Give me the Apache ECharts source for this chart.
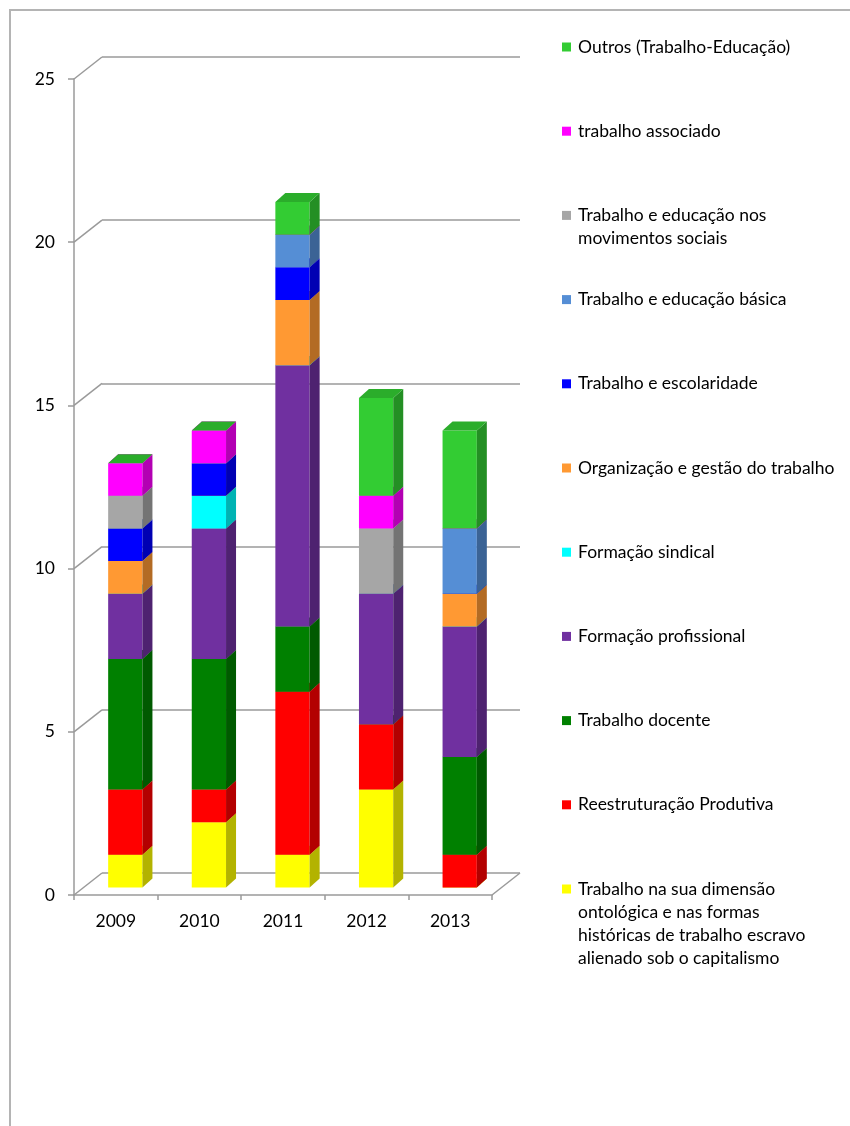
<!DOCTYPE html>
<html>
<head>
<meta charset="utf-8">
<script src="https://cdn.jsdelivr.net/npm/echarts@6/dist/echarts.min.js"></script>
<style>
  html, body { margin: 0; padding: 0; background: #fff; }
  #chart { width: 850px; height: 1126px; }
</style>
</head>
<body>
<div id="chart"></div>
<script>
// Years on the horizontal axis
const categories = ['2009', '2010', '2011', '2012', '2013'];

// Stacked themes, bottom of the stack first
const seriesNames = [
  'Trabalho na sua dimensão ontológica e nas formas históricas de trabalho escravo alienado sob o capitalismo',
  'Reestruturação Produtiva',
  'Trabalho docente',
  'Formação profissional',
  'Formação sindical',
  'Organização e gestão do trabalho',
  'Trabalho e escolaridade',
  'Trabalho e educação básica',
  'Trabalho e educação nos movimentos sociais',
  'trabalho associado',
  'Outros (Trabalho-Educação)'
];

// Legend labels as they wrap in the key
const legendLabels = [
  'Trabalho na sua dimensão\nontológica e nas formas\nhistóricas de trabalho escravo\nalienado sob o capitalismo',
  'Reestruturação Produtiva',
  'Trabalho docente',
  'Formação profissional',
  'Formação sindical',
  'Organização e gestão do trabalho',
  'Trabalho e escolaridade',
  'Trabalho e educação básica',
  'Trabalho e educação nos\nmovimentos sociais',
  'trabalho associado',
  'Outros (Trabalho-Educação)'
];

// Counts per year for each theme
const dimensaoOntologica = [1, 2, 1, 3, 0];
const reestruturacao     = [2, 1, 5, 2, 1];
const trabalhoDocente    = [4, 4, 2, 0, 3];
const formacaoProf       = [2, 4, 8, 4, 4];
const formacaoSindical   = [0, 1, 0, 0, 0];
const organizacaoGestao  = [1, 0, 2, 0, 1];
const escolaridade       = [1, 1, 1, 0, 0];
const educacaoBasica     = [0, 0, 1, 0, 2];
const movimentosSociais  = [1, 0, 0, 2, 0];
const trabalhoAssociado  = [1, 1, 0, 1, 0];
const outros             = [0, 0, 1, 3, 3];

const seriesValues = [
  dimensaoOntologica, reestruturacao, trabalhoDocente, formacaoProf,
  formacaoSindical, organizacaoGestao, escolaridade, educacaoBasica,
  movimentosSociais, trabalhoAssociado, outros
];

// Value-axis tick marks
const yTicks = [0, 5, 10, 15, 20, 25];

const colors = [
  '#ffff00', '#ff0000', '#008000', '#7030a0', '#00ffff', '#ff9933',
  '#0000ff', '#558ed5', '#a6a6a6', '#ff00ff', '#33cc33'
];

const FONT = 'Lato, "Open Sans", sans-serif';
const FONT_SIZE = 17.5;
const AXIS_GRAY = '#9a9a9a';

// 3D depth: back wall offset and bar plane offset from the front axis
const WALL_DX = 28, WALL_DY = -22;
const BAR_DX = 9.5, BAR_DY = -7.5;
const DEPTH_DX = 10, DEPTH_DY = -9;

function shade(hex, k) {
  const n = parseInt(hex.slice(1), 16);
  const r = Math.round(((n >> 16) & 255) * k);
  const g = Math.round(((n >> 8) & 255) * k);
  const b = Math.round((n & 255) * k);
  return 'rgb(' + r + ',' + g + ',' + b + ')';
}

// Running stack bases
const bases = seriesValues.map(() => []);
categories.forEach((c, ci) => {
  let acc = 0;
  seriesValues.forEach((vals, si) => {
    bases[si][ci] = acc;
    acc += vals[ci];
  });
});

function barRenderer(si) {
  const front = colors[si];
  const side = shade(colors[si], 0.7);
  const top = shade(colors[si], 0.85);
  return function (params, api) {
    const ci = api.value(0);
    const v = api.value(1);
    const base = api.value(2);
    const p0 = api.coord([ci, base]);
    const p1 = api.coord([ci, base + v]);
    const w = api.size([1, 0])[0] * 0.41;
    const xl = p0[0] - w / 2 + BAR_DX;
    const xr = p0[0] + w / 2 + BAR_DX;
    const yb = p0[1] + BAR_DY;
    const yt = p1[1] + BAR_DY;
    const children = [];
    if (v > 0) {
      children.push({
        type: 'rect',
        shape: { x: xl, y: yt, width: xr - xl, height: yb - yt },
        style: { fill: front }
      });
      children.push({
        type: 'polygon',
        shape: { points: [[xr, yt], [xr + DEPTH_DX, yt + DEPTH_DY], [xr + DEPTH_DX, yb + DEPTH_DY], [xr, yb]] },
        style: { fill: side }
      });
    }
    children.push({
      type: 'polygon',
      shape: { points: [[xl, yt], [xr, yt], [xr + DEPTH_DX, yt + DEPTH_DY], [xl + DEPTH_DX, yt + DEPTH_DY]] },
      style: { fill: top }
    });
    return { type: 'group', children: children };
  };
}

const barSeries = seriesNames.map((name, si) => ({
  type: 'custom',
  name: name,
  xAxisIndex: 0,
  yAxisIndex: 0,
  z: 3,
  renderItem: barRenderer(si),
  encode: { x: 0, y: 1 },
  data: categories.map((c, ci) => [ci, seriesValues[si][ci], bases[si][ci]])
}));

// Diagonal connectors from the front axis to the back wall
const wallSeries = {
  type: 'custom',
  xAxisIndex: 0,
  yAxisIndex: 0,
  z: 1,
  silent: true,
  renderItem: function (params, api) {
    const cs = params.coordSys;
    const y = api.coord([0, api.value(0)])[1];
    const lines = [{
      type: 'line',
      shape: { x1: cs.x, y1: y, x2: cs.x + WALL_DX, y2: y + WALL_DY },
      style: { stroke: AXIS_GRAY, lineWidth: 1.5 }
    }];
    if (api.value(0) === 0) {
      lines.push({
        type: 'line',
        shape: { x1: cs.x + cs.width, y1: y, x2: cs.x + cs.width + WALL_DX, y2: y + WALL_DY },
        style: { stroke: AXIS_GRAY, lineWidth: 1.5 }
      });
    }
    return { type: 'group', children: lines };
  },
  data: yTicks.map(t => [t])
};

// Legend key, top entry first
const LEG_TOP = 47, LEG_STEP = 84.2;
const legendGraphics = [];
for (let k = 0; k < seriesNames.length; k++) {
  const si = seriesNames.length - 1 - k;
  const yc = LEG_TOP + k * LEG_STEP;
  legendGraphics.push({
    type: 'rect',
    shape: { x: 562, y: yc - 4.5, width: 9, height: 9 },
    style: { fill: colors[si] }
  });
  legendGraphics.push({
    type: 'text',
    x: 578,
    y: yc - 11.5,
    style: {
      text: legendLabels[si],
      font: FONT_SIZE + 'px ' + FONT,
      fill: '#000',
      lineHeight: 23,
      verticalAlign: 'top',
      align: 'left'
    }
  });
}

const chart = echarts.init(document.getElementById('chart'), null, { renderer: 'canvas' });
chart.setOption({
  backgroundColor: '#fff',
  animation: false,
  graphic: [
    {
      type: 'rect',
      shape: { x: 10, y: 10, width: 900, height: 1200 },
      style: { fill: 'none', stroke: '#b4b4b4', lineWidth: 2 },
      silent: true
    }
  ].concat(legendGraphics),
  grid: [
    { left: 74, top: 79, width: 418, height: 816 },
    { left: 102, top: 57, width: 418, height: 816 }
  ],
  xAxis: [
    {
      type: 'category',
      gridIndex: 0,
      data: categories,
      axisLine: { lineStyle: { color: AXIS_GRAY, width: 1.5 } },
      axisTick: { show: true, length: 5, lineStyle: { color: AXIS_GRAY, width: 1.5 } },
      axisLabel: { color: '#000', fontSize: FONT_SIZE, fontFamily: FONT, margin: 17 },
      splitLine: { show: false }
    },
    {
      type: 'category',
      gridIndex: 1,
      data: categories,
      show: false
    }
  ],
  yAxis: [
    {
      type: 'value',
      gridIndex: 0,
      min: 0,
      max: 25,
      interval: 5,
      axisLine: { show: true, lineStyle: { color: AXIS_GRAY, width: 1.5 } },
      axisTick: { show: true, length: 6, lineStyle: { color: AXIS_GRAY, width: 1.5 } },
      axisLabel: { color: '#000', fontSize: FONT_SIZE, fontFamily: FONT, margin: 19 },
      splitLine: { show: false }
    },
    {
      type: 'value',
      gridIndex: 1,
      min: 0,
      max: 25,
      interval: 5,
      axisLine: { show: false },
      axisTick: { show: false },
      axisLabel: { show: false },
      splitLine: { show: true, lineStyle: { color: AXIS_GRAY, width: 1.5 } }
    }
  ],
  series: [wallSeries].concat(barSeries)
});
</script>
</body>
</html>
